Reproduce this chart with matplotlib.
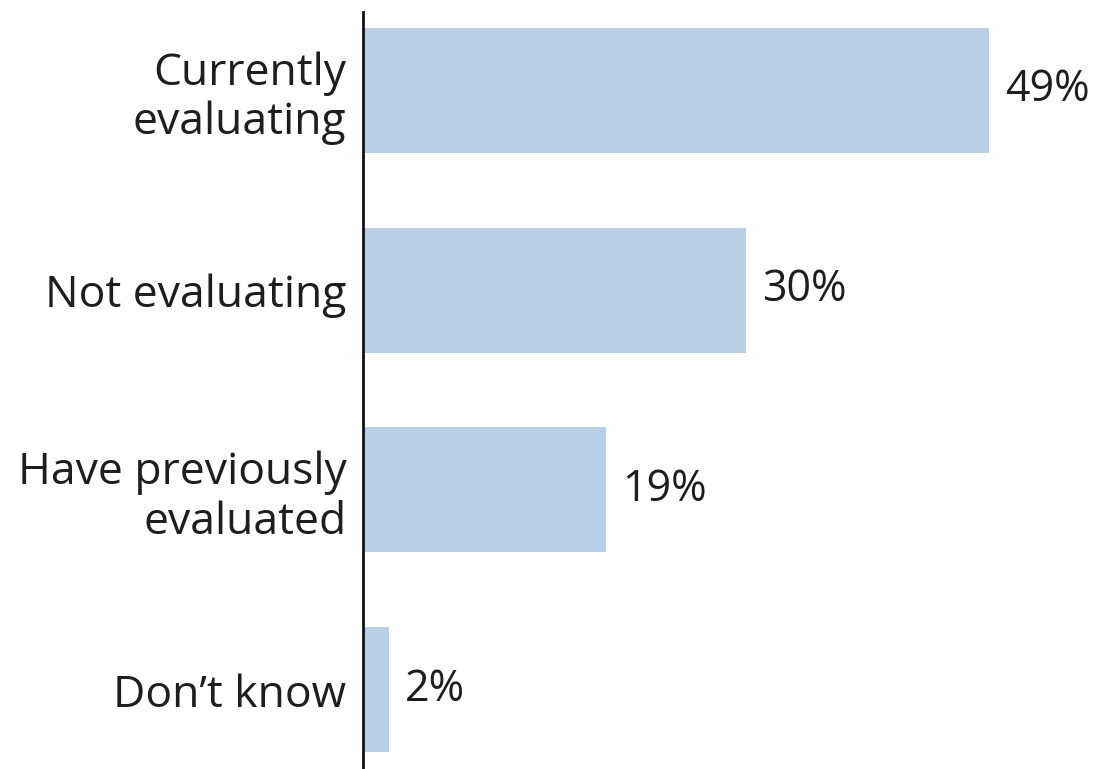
import matplotlib
matplotlib.use("Agg")
import matplotlib.pyplot as plt

categories = ["Currently\nevaluating", "Not evaluating", "Have previously\nevaluated", "Don\u2019t know"]
values = [49, 30, 19, 2]
value_labels = ["49%", "30%", "19%", "2%"]

plt.rcParams['font.family'] = ['Open Sans', 'DejaVu Sans']

W, H = 1107, 769
fig = plt.figure(figsize=(W/100, H/100), dpi=100)
ax = fig.add_axes([363/W, 0, 1 - 363/W, 757/H])

bar_color = "#b9cfe7"
ypos = list(range(len(categories)))
ax.barh(ypos, values, height=0.625, color=bar_color, edgecolor="none")

ax.set_xlim(0, (W - 363) / 12.77)
ax.set_ylim(3.395, -0.39)

ax.set_yticks(ypos)
ax.set_yticklabels(categories, fontsize=32, color="#1e1e1e", ha="right", linespacing=1.15)
ax.tick_params(axis="y", length=0, pad=12)
ax.set_xticks([])

for s in ["top", "right", "bottom"]:
    ax.spines[s].set_visible(False)
ax.spines["left"].set_color("#111111")
ax.spines["left"].set_linewidth(2)

for y, v, lab in zip(ypos, values, value_labels):
    ax.annotate(lab, xy=(v, y), xytext=(16, 0), textcoords="offset pixels",
                va="center", ha="left", fontsize=31, color="#1e1e1e")

fig.savefig("out.png", dpi=100, facecolor="white")
